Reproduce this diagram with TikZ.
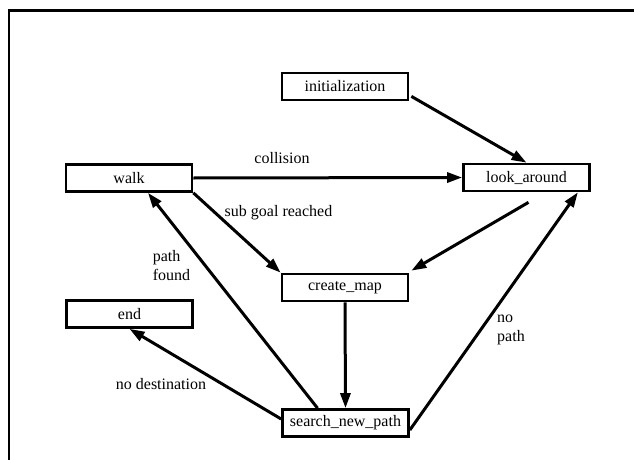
\documentclass[tikz,border=0pt]{standalone}
\usepackage{fontspec}
\setmainfont{Liberation Serif}
\usetikzlibrary{arrows.meta,calc}
\begin{document}
\begin{tikzpicture}[x=1pt,y=-1pt,
  state/.style={draw,line width=2.7pt,minimum width=126pt,minimum height=27pt,inner sep=0pt,
    font=\fontsize{16}{19}\selectfont},
  lbl/.style={inner sep=0pt,font=\fontsize{16}{19}\selectfont,align=left},
  trans/.style={line width=3pt,-{Triangle[length=15pt,width=10pt]}}]
\useasboundingbox (0,0) rectangle (634,460);
% frame edges
\draw[line width=2.7pt] (9,460) -- (9,10.5) -- (634,10.5);

% states
\node[state] (init)   at (345,86.5)  {initialization};
\node[state] (look)   at (526.5,177.5) {look\_around};
\node[state] (walk)   at (129,178)   {walk};
\node[state] (cmap)   at (345,287.5) {create\_map};
\node[state] (fin)    at (129.5,314) {end};
\node[state] (search) at (345.5,423) {search\_new\_path};

% transitions
\draw[trans] ($(init.south east)+(2,-5)$) -- (look.north);
\draw[trans] (walk.east) -- (look.west);
\draw[trans] (walk.south east) -- (cmap.north west);
\draw[trans] ($(look.south)+(2,10)$) -- ($(cmap.north east)+(2,-2)$);
\draw[trans] (cmap.south) -- (search.north);
\draw[trans] ($(search.east)+(0,7)$) -- ($(look.south east)+(-13,0)$);
\draw[trans] ($(search.north)+(-28,0)$) -- ($(walk.south)+(19,0)$);
\draw[trans] ($(search.west)+(0,-4)$) -- (fin.south);

% transition labels
\node[lbl] (lcol)  at (282,158) {collision};
\node[lbl] (lsub)  at (278.5,213) {sub goal reached};
\node[lbl] (lpf)   at (171.5,266) {path\\found};
\node[lbl] (lnp)   at (511,330) {no\\path};
\node[lbl] (lnd)   at (161,384) {no destination};
\end{tikzpicture}
\end{document}
